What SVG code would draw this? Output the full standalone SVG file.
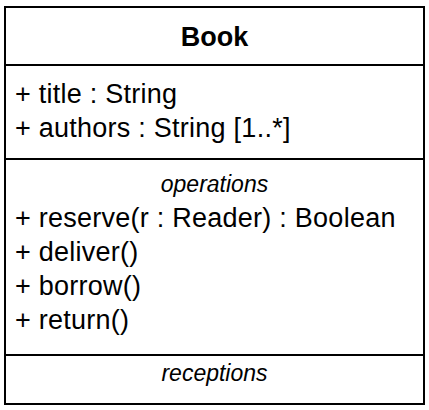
<svg xmlns="http://www.w3.org/2000/svg" width="429" height="410" viewBox="0 0 429 410">
  <style>
    .box { fill: #ffffff; stroke: #000000; stroke-width: 2; }
    .div { stroke: #000000; stroke-width: 2; }
    .t { font-family: "Liberation Sans", Arial, Helvetica, sans-serif; font-size: 27px; letter-spacing: 0.25px; fill: #000000; }
    .name { font-family: "Liberation Sans", Arial, Helvetica, sans-serif; font-size: 27px; font-weight: bold; fill: #000000; text-anchor: middle; }
    .kw { font-family: "Liberation Sans", Arial, Helvetica, sans-serif; font-size: 23px; font-style: italic; fill: #000000; text-anchor: middle; }
  </style>
  <rect x="0" y="0" width="429" height="410" fill="#ffffff"/>
  <g id="Book">
    <rect class="box" x="5" y="7" width="419" height="397"/>
    <text class="name" x="214.5" y="46">Book</text>
    <line class="div" x1="5" y1="65" x2="424" y2="65"/>
    <g id="attributes">
      <text class="t" x="15" y="103">+ title : String</text>
      <text class="t" x="15" y="137">+ authors : String [1..*]</text>
    </g>
    <line class="div" x1="5" y1="159" x2="424" y2="159"/>
    <g id="operations">
      <text class="kw" x="214.5" y="192">operations</text>
      <text class="t" x="15" y="227">+ reserve(r : Reader) : Boolean</text>
      <text class="t" x="15" y="261">+ deliver()</text>
      <text class="t" x="15" y="295">+ borrow()</text>
      <text class="t" x="15" y="329">+ return()</text>
    </g>
    <line class="div" x1="5" y1="355" x2="424" y2="355"/>
    <g id="receptions">
      <text class="kw" x="214.5" y="381">receptions</text>
    </g>
  </g>
</svg>
